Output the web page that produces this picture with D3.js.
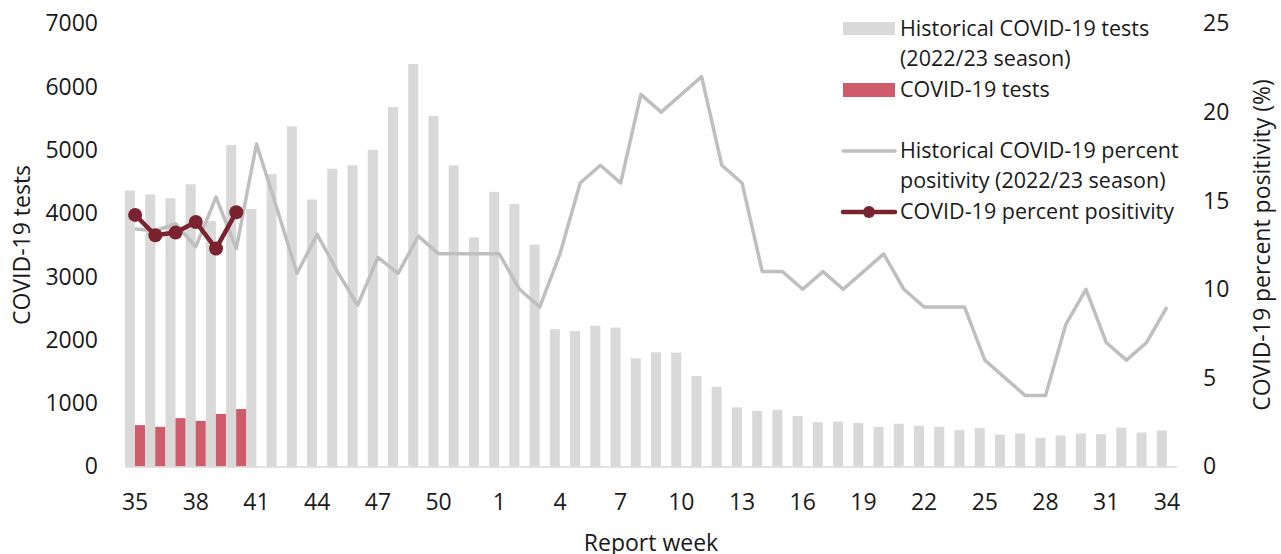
<!DOCTYPE html>
<html><head><meta charset="utf-8">
<script src="https://cdn.jsdelivr.net/npm/d3@7/dist/d3.min.js"></script>
<style>
body{margin:0;background:#fff;}
text{font-family:"Open Sans",sans-serif;fill:#1a1a1a;}
</style></head>
<body><svg id="c" width="1281" height="554"></svg>
<script>
const weeks = [35,36,37,38,39,40,41,42,43,44,45,46,47,48,49,50,51,52,1,2,3,4,5,6,7,8,9,10,11,12,13,14,15,16,17,18,19,20,21,22,23,24,25,26,27,28,29,30,31,32,33,34];
const histTests = [4360,4300,4240,4460,3880,5080,4070,4620,5375,4220,4705,4760,5005,5680,6360,5540,4760,3620,4340,4150,3505,2170,2140,2225,2195,1710,1805,1800,1430,1260,935,877,897,798,700,708,687,624,676,645,628,575,607,506,521,453,490,521,511,616,537,569];
const curTests = [654,627,764,720,830,908];
const histPos = [13.4,13.3,13.7,12.4,15.2,12.3,18.2,14.6,10.9,13.1,11.0,9.1,11.8,10.9,13.0,12,12,12,12,10,9,12,16,17,16,21,20,21,22,17,16,11,11,10,11,10,11,12,10,9,9,9,6,5,4,4,8,10,7,6,7,9];
const curPos = [14.2,13.05,13.2,13.8,12.3,14.35];
const leftTicks = [0,1000,2000,3000,4000,5000,6000,7000];
const rightTicks = [0,5,10,15,20,25];

const svg = d3.select('#c');
const L = 125, R = 1177, T = 23.5, B = 466.5;
const x = d3.scaleBand().domain(weeks.map((w,i)=>i)).range([L,R]).paddingInner(0).paddingOuter(0);
const yL = d3.scaleLinear().domain([0,7000]).range([B,T]);
const yR = d3.scaleLinear().domain([0,25]).range([B,T]);
const bw = x.bandwidth();
const barW = 10;

svg.append('g').selectAll('rect').data(histTests).join('rect')
  .attr('x',(d,i)=>x(i)).attr('width',barW)
  .attr('y',d=>yL(d)).attr('height',d=>B-yL(d)).attr('fill','#d9d9d9');
svg.append('g').selectAll('rect').data(curTests).join('rect')
  .attr('x',(d,i)=>x(i)+barW).attr('width',barW)
  .attr('y',d=>yL(d)).attr('height',d=>B-yL(d)).attr('fill','#cf5c6a');

svg.append('line').attr('x1',L).attr('x2',R).attr('y1',B+0.5).attr('y2',B+0.5)
  .attr('stroke','#d9d9d9').attr('stroke-width',1.5);

const cx = i => x(i)+bw/2;
svg.append('path').datum(histPos)
  .attr('d',d3.line().x((d,i)=>cx(i)).y(d=>yR(d)))
  .attr('fill','none').attr('stroke','#bfbfbf').attr('stroke-width',3.5).attr('stroke-linejoin','round');
svg.append('path').datum(curPos)
  .attr('d',d3.line().x((d,i)=>cx(i)).y(d=>yR(d)))
  .attr('fill','none').attr('stroke','#7b2230').attr('stroke-width',4.5).attr('stroke-linejoin','round');
svg.append('g').selectAll('circle').data(curPos).join('circle')
  .attr('cx',(d,i)=>cx(i)).attr('cy',d=>yR(d)).attr('r',7).attr('fill','#7b2230');

const fs = 23, lfs = 21.5;
const axL = svg.append('g').attr('transform',`translate(${L},0)`)
  .call(d3.axisLeft(yL).tickValues(leftTicks).tickSize(0).tickPadding(27).tickFormat(d3.format('d')));
const axR = svg.append('g').attr('transform',`translate(${R},0)`)
  .call(d3.axisRight(yR).tickValues(rightTicks).tickSize(0).tickPadding(26));
const axB = svg.append('g').attr('transform',`translate(0,${B})`)
  .call(d3.axisBottom(x).tickValues(weeks.map((w,i)=>i).filter(i=>i%3===0)).tickSize(0).tickPadding(27).tickFormat(i=>weeks[i]));
[axL,axR,axB].forEach(a=>{a.select('.domain').remove();a.selectAll('text').attr('font-size',fs).attr('font-family','"Open Sans",sans-serif').attr('fill','#1a1a1a');});

svg.append('text').attr('transform',`translate(30,${(T+B)/2}) rotate(-90)`).attr('text-anchor','middle').attr('font-size',fs).text('COVID-19 tests');
svg.append('text').attr('transform',`translate(1270,${(T+B)/2}) rotate(-90)`).attr('text-anchor','middle').attr('font-size',fs).text('COVID-19 percent positivity (%)');
svg.append('text').attr('x',(L+R)/2).attr('y',551).attr('text-anchor','middle').attr('font-size',fs).text('Report week');

const lg = svg.append('g');
const lx = 843, lw = 52, tx = 900;
lg.append('rect').attr('x',lx).attr('y',22).attr('width',lw).attr('height',13).attr('fill','#d9d9d9');
lg.append('text').attr('x',tx).attr('y',36).attr('font-size',lfs).text('Historical COVID-19 tests');
lg.append('text').attr('x',tx).attr('y',66).attr('font-size',lfs).text('(2022/23 season)');
lg.append('rect').attr('x',lx).attr('y',83).attr('width',lw).attr('height',14).attr('fill','#cf5c6a');
lg.append('text').attr('x',tx).attr('y',97).attr('font-size',lfs).text('COVID-19 tests');
lg.append('line').attr('x1',lx).attr('x2',lx+lw).attr('y1',151).attr('y2',151).attr('stroke','#bfbfbf').attr('stroke-width',3.5).attr('stroke-linecap','round');
lg.append('text').attr('x',tx).attr('y',158).attr('font-size',lfs).text('Historical COVID-19 percent');
lg.append('text').attr('x',tx).attr('y',188).attr('font-size',lfs).text('positivity (2022/23 season)');
lg.append('line').attr('x1',lx).attr('x2',lx+lw).attr('y1',212).attr('y2',212).attr('stroke','#7b2230').attr('stroke-width',4.5).attr('stroke-linecap','round');
lg.append('circle').attr('cx',lx+lw/2).attr('cy',212).attr('r',6).attr('fill','#7b2230');
lg.append('text').attr('x',tx).attr('y',219).attr('font-size',lfs).text('COVID-19 percent positivity');
</script></body></html>
